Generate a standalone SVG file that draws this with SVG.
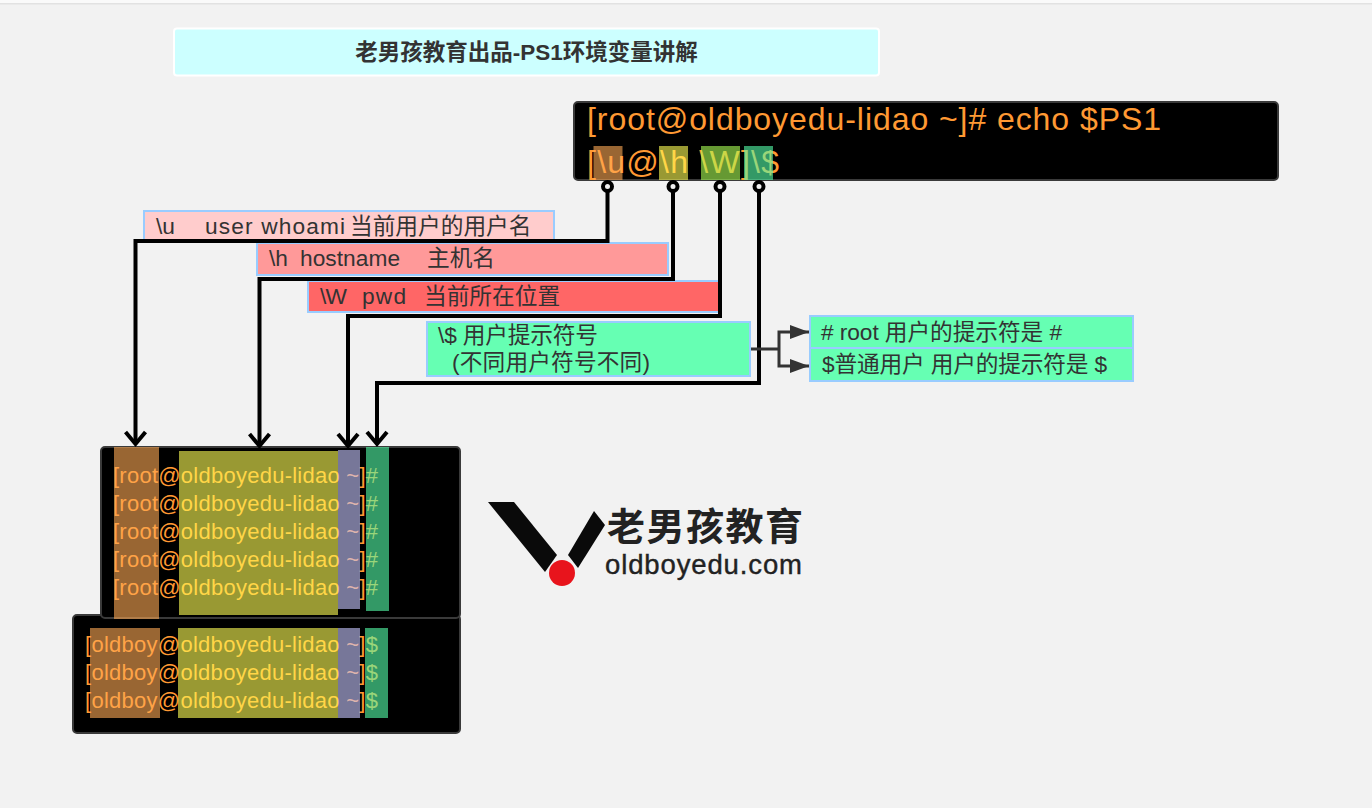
<svg xmlns="http://www.w3.org/2000/svg" width="1372" height="808" viewBox="0 0 1372 808">
<style>
text{font-family:"Liberation Sans","Noto Sans CJK SC",sans-serif}
.term{fill:#000;stroke:#3a3a3a;stroke-width:2}
.o{fill:#ff9933}
.t{font-size:32px}
.s{font-size:22px}
.lab{font-size:22.700px;fill:#333}
.box{stroke:#99ccff;stroke-width:2}
.gr{fill:#66ffb3}
.br{fill:#ffaa55;fill-opacity:.6}
.ye{fill:#ffff55;fill-opacity:.6}
.lg{fill:#aaff55;fill-opacity:.6}
.pu{fill:#c6c6ff;fill-opacity:.6}
.te{fill:#55ffaa;fill-opacity:.6}
.edge{fill:none;stroke:#000;stroke-width:4}
.pin{fill:#f2f2f2;stroke:#000;stroke-width:4}
.thin{fill:none;stroke:#333;stroke-width:3}
</style>
<defs>
<marker id="open" viewBox="0 0 24 24" refX="20" refY="12" markerWidth="24" markerHeight="24" markerUnits="userSpaceOnUse" orient="auto"><path d="M8 2 L20 12 L8 22" fill="none" stroke="#000" stroke-width="4"/></marker>
<marker id="tri" viewBox="0 0 19 14" refX="19" refY="7" markerWidth="19" markerHeight="14" markerUnits="userSpaceOnUse" orient="auto"><path d="M0 0 L19 7 L0 14 Z" fill="#333"/></marker>
</defs>
<rect width="1372" height="808" fill="#f2f2f2"/>
<rect width="1372" height="3" fill="#fafafa"/>
<rect y="3" width="1372" height="1.500" fill="#e2e2e2"/>
<g id="title"><rect x="174" y="28.500" width="705" height="47" rx="3" fill="#ccffff" stroke="#fff" stroke-width="2"/><text x="526.500" y="60" text-anchor="middle" font-size="22.500" font-weight="bold" fill="#333">老男孩教育出品-PS1环境变量讲解</text></g>
<g id="prompt"><rect class="term" x="574" y="102" width="704" height="78" rx="4"/>
<text class="t o" x="587" y="130" textLength="574" lengthAdjust="spacing">[root@oldboyedu-lidao ~]# echo $PS1</text>
<text class="t o" x="587" y="173" textLength="192" lengthAdjust="spacing" xml:space="preserve">[\u@\h \W]\$</text>
<rect class="br" x="593.500" y="146" width="29" height="34"/><rect class="ye" x="659" y="146" width="29" height="34"/><rect class="lg" x="701" y="146" width="39" height="34"/><rect class="te" x="744" y="146" width="29" height="34"/></g>
<g id="label-u"><rect class="box" x="144" y="211" width="410" height="30" fill="#ffcccc"/><text class="lab" x="156" y="234">\u</text><text class="lab" x="205" y="234" textLength="140">user  whoami</text><text class="lab" x="350" y="234">当前用户的用户名</text></g>
<g id="label-h"><rect class="box" x="257" y="243" width="411" height="32" fill="#ff9999"/><text class="lab" x="269" y="266">\h</text><text class="lab" x="300" y="266" textLength="100">hostname</text><text class="lab" x="427" y="266">主机名</text></g>
<g id="label-w"><rect class="box" x="308" y="281" width="411" height="31" fill="#ff6666"/><text class="lab" x="320" y="304" textLength="27">\W</text><text class="lab" x="362" y="304" textLength="44">pwd</text><text class="lab" x="424" y="304">当前所在位置</text></g>
<g id="label-s"><rect class="box gr" x="427" y="322" width="323" height="54"/><text class="lab" x="438" y="343" textLength="160">\$ 用户提示符号</text><text class="lab" x="452" y="370" textLength="198">(不同用户符号不同)</text></g>
<g id="label-root"><rect class="box gr" x="810" y="316" width="323" height="32"/><text class="lab" x="821" y="340" textLength="241"># root 用户的提示符是 #</text></g>
<g id="label-user"><rect class="box gr" x="810" y="348" width="323" height="33"/><text class="lab" x="822" y="372" textLength="285">$普通用户 用户的提示符是 $</text></g>
<g id="user-shell"><rect class="term" x="73" y="615" width="387" height="118" rx="4"/>
<g class="s o"><text x="85" y="652" textLength="293">[oldboy@oldboyedu-lidao ~]$</text><text x="85" y="680" textLength="293">[oldboy@oldboyedu-lidao ~]$</text><text x="85" y="708" textLength="293">[oldboy@oldboyedu-lidao ~]$</text></g>
<rect class="br" x="90" y="628" width="70" height="90"/><rect class="ye" x="178" y="628" width="160" height="90"/><rect class="pu" x="338" y="628" width="22" height="90"/><rect class="te" x="365" y="628" width="23" height="90"/></g>
<g id="root-shell"><rect class="term" x="101" y="447" width="359" height="171" rx="4"/>
<g class="s o"><text x="113" y="483" textLength="265">[root@oldboyedu-lidao ~]#</text><text x="113" y="511" textLength="265">[root@oldboyedu-lidao ~]#</text><text x="113" y="539" textLength="265">[root@oldboyedu-lidao ~]#</text><text x="113" y="567" textLength="265">[root@oldboyedu-lidao ~]#</text><text x="113" y="595" textLength="265">[root@oldboyedu-lidao ~]#</text></g>
<rect class="br" x="114" y="447" width="45" height="172"/><rect class="ye" x="179" y="451" width="159" height="164"/><rect class="pu" x="338" y="450" width="22" height="159"/><rect class="te" x="366" y="447" width="23" height="164"/></g>
<g id="logo"><path d="M488 502H514L557 555L545 572Z" fill="#0a0a0a"/><path d="M594 511L605 525L578 568L568 555Z" fill="#0a0a0a"/><circle cx="562" cy="573" r="13" fill="#e8141c"/><text x="607" y="540" font-size="38" font-weight="bold" fill="#222" textLength="196">老男孩教育</text><text x="605" y="574" font-size="27.500" fill="#222" stroke="#222" stroke-width=".4" textLength="197">oldboyedu.com</text></g>
<g id="connectors">
<path class="edge" marker-end="url(#open)" d="M607.500 191V241H135.500V444"/>
<path class="edge" marker-end="url(#open)" d="M673 191V279H259.500V446"/>
<path class="edge" marker-end="url(#open)" d="M720 191V316H348V446"/>
<path class="edge" marker-end="url(#open)" d="M759 191V383H377V444"/>
<circle class="pin" cx="607.500" cy="186.500" r="4.500"/><circle class="pin" cx="673" cy="186.500" r="4.500"/><circle class="pin" cx="720" cy="186.500" r="4.500"/><circle class="pin" cx="759" cy="186.500" r="4.500"/>
<path class="thin" d="M751 349H779"/>
<path class="thin" marker-end="url(#tri)" d="M779 349V332H809"/>
<path class="thin" marker-end="url(#tri)" d="M779 349V366H809"/>
</g>
</svg>
